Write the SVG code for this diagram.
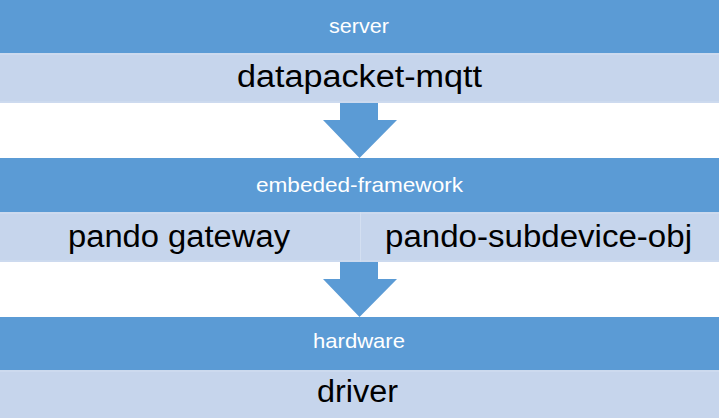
<svg xmlns="http://www.w3.org/2000/svg" width="719" height="418" viewBox="0 0 719 418">
  <style>
    .hdr { fill: #5B9BD5; }
    .band { fill: #C6D5EC; }
    .edge { stroke: #D3DFF1; stroke-width: 1; }
    .ht { font-family: "Liberation Sans", Arial, sans-serif; font-size: 21px; fill: #FFFFFF; }
    .bt { font-family: "Liberation Sans", Arial, sans-serif; font-size: 31px; fill: #000000; }
    .arrow { fill: #5B9BD5; }
  </style>
  <rect x="0" y="0" width="719" height="418" fill="#FFFFFF"/>

  <g id="header-server">
    <rect class="hdr" x="0" y="0" width="719" height="53"/>
    <text class="ht" x="329" y="33" textLength="60" lengthAdjust="spacingAndGlyphs">server</text>
  </g>
  <g id="box-datapacket-mqtt">
    <rect class="band" x="0" y="53" width="719" height="50"/>
    <line class="edge" x1="0" y1="54" x2="719" y2="54"/>
    <line class="edge" x1="0" y1="102" x2="719" y2="102"/>
    <text class="bt" x="237" y="87" textLength="245" lengthAdjust="spacingAndGlyphs">datapacket-mqtt</text>
  </g>

  <g id="header-embeded-framework">
    <rect class="hdr" x="0" y="158" width="719" height="54"/>
    <text class="ht" x="256" y="192" textLength="207" lengthAdjust="spacingAndGlyphs">embeded-framework</text>
  </g>
  <g id="box-pando-gateway">
    <rect class="band" x="0" y="212" width="360" height="50"/>
    <line class="edge" x1="0" y1="213" x2="360" y2="213"/>
    <line class="edge" x1="0" y1="261" x2="360" y2="261"/>
    <text class="bt" x="68" y="247" textLength="222" lengthAdjust="spacingAndGlyphs">pando gateway</text>
  </g>
  <g id="box-pando-subdevice-obj">
    <rect class="band" x="360" y="212" width="359" height="50"/>
    <line class="edge" x1="360" y1="213" x2="719" y2="213"/>
    <line class="edge" x1="360" y1="261" x2="719" y2="261"/>
    <line class="edge" x1="360.5" y1="212" x2="360.5" y2="262"/>
    <text class="bt" x="385" y="247" textLength="307" lengthAdjust="spacingAndGlyphs">pando-subdevice-obj</text>
  </g>

  <g id="header-hardware">
    <rect class="hdr" x="0" y="317" width="719" height="53"/>
    <text class="ht" x="313" y="348" textLength="92" lengthAdjust="spacingAndGlyphs">hardware</text>
  </g>
  <g id="box-driver">
    <rect class="band" x="0" y="370" width="719" height="48"/>
    <line class="edge" x1="0" y1="371" x2="719" y2="371"/>
    <text class="bt" x="317" y="402" textLength="81" lengthAdjust="spacingAndGlyphs">driver</text>
  </g>

  <g id="connectors">
    <polygon class="arrow" points="340,103 378,103 378,120 397,120 359.5,158 323,120 340,120"/>
    <polygon class="arrow" points="340,262 378,262 378,279 397,279 359.5,317 323,279 340,279"/>
  </g>
</svg>
